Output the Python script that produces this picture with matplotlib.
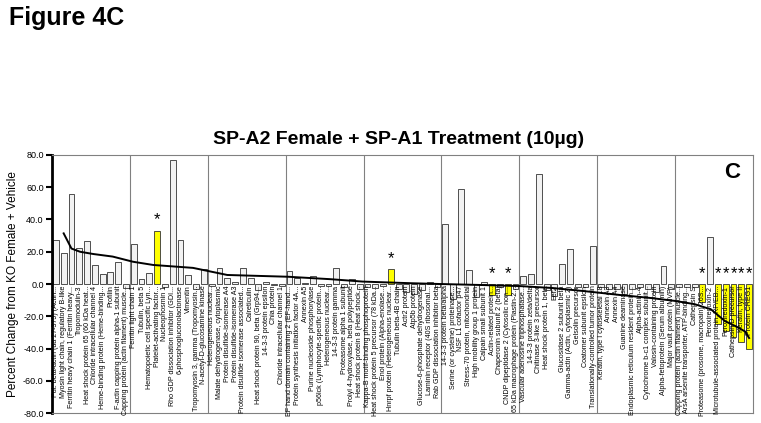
import numpy as np
import matplotlib
matplotlib.use('Agg')
import matplotlib.pyplot as plt

plt.rcParams['font.family'] = ['Liberation Sans', 'DejaVu Sans']

# protein names (as printed, truncated like the original)
proteins = [
    "Put. beta-actin (aa 27-375) (Actin...", "Myosin light chain, regulatory B-like",
    "Ferritin heavy chain 1 (Ferritin heavy...", "Tropomodulin-3",
    "Heat shock protein 65 (60 kDa heat...", "Chloride intracellular channel 4",
    "Heme-binding protein (Heme-binding...", "Profilin",
    "F-actin capping protein alpha-1 subunit", "Capping protein (actin filament) muscle...",
    "Ferritin light chain 1", "Tubulin, beta 5",
    "Hematopoietic cell specific Lyn...", "Platelet-activating factor...",
    "Nucleophosmin 1", "Rho GDP dissociation inhibitor (GDI...",
    "6-phosphogluconolactonase", "Vimentin",
    "Tropomyosin 3, gamma (Tropomyosin...", "N-acetyl-D-glucosamine kinase",
    "Heterogeneous nuclear...", "Malate dehydrogenase, cytoplasmic",
    "Protein disulfide-isomerase A4", "Protein disulfide-isomerase A3",
    "Protein disulfide isomerase associated...", "Calreticulin",
    "Heat shock protein 90, beta (Grp94...", "14-3-3 protein epsilon",
    "Chia protein", "Chloride intracellular channel 1",
    "EF hand domain containing 2 (EF-hand...", "Protein synthesis initiation factor 4A...",
    "Annexin A5", "Purine nucleoside phosphorylase",
    "p56lck (Lymphocyte-specific protein...", "Heterogeneous nuclear...",
    "14-3-3 protein gamma", "Proteasome alpha 1 subunit",
    "Prolyl 4-hydroxylase, beta polypeptide", "Heat shock protein 8 (Heat shock...",
    "Kappa-B motif-binding phosphoprotein", "Heat shock protein 5 precursor (78 kDa...",
    "Enol protein (Alpha-enolase...", "Hnrpf protein (Heterogeneous nuclear...",
    "Tubulin beta-4B chain", "Actr2 protein",
    "Atp5b protein", "Glucose-6-phosphate dehydrogenase",
    "Laminin receptor (40S ribosomal...", "Rab GDP dissociation inhibitor beta",
    "14-3-3 protein beta/alpha", "Serine (or cysteine) proteinase...",
    "NSF L1 cofactor p47", "Stress-70 protein, mitochondrial",
    "High mobility group 1 protein", "Calpain small subunit 1",
    "Actin-related protein...", "Chaperonin subunit 2 (beta)",
    "CNDP dipeptidase 2 (Cytosolic non...", "65 kDa macrophage protein (Plastin-2...",
    "Vascular adenosine triphosphatase...", "14-3-3 protein zeta/delta",
    "Chitinase 3-like 3 precursor", "Heat shock protein 1, beta",
    "Eef2", "Glucosidase 2 subunit beta",
    "Gamma-actin (Actin, cytoplasmic 2)", "Gelsolin precursor",
    "Coatomer subunit epsilon", "Translationally-controlled tumor protein",
    "Keratin, type I cytoskeletal 18", "Annexin A3",
    "Annexin A4", "Guanine deaminase",
    "Endoplasmic reticulum resident protein...", "Alpha-actinin-4",
    "Cytochrome b-c1 complex subunit...", "Valosin-containing protein",
    "Alpha-fetoprotein (Serum albumin)", "Major vault protein (MVP)",
    "Capping protein (actin filament) muscle...", "ArsA arsenite transporter, ATP-binding...",
    "Cathepsin S", "Proteasome (prosome, macropain) 26S...",
    "Peroxiredoxin-2", "Microtubule-associated protein, RP/EB...",
    "Peroxiredoxin-1", "Cathepsin D precursor",
    "Keratin, type II", "Protein CREG1",
]

pct_change = [
    27.5, 19, 56, 22.5, 26.5, 11.5, 6, 7.5, 13.8, -2.5,
    24.5, 3, 7, 33, -2, 77, 27, 5.5, -3, 9,
    -1, 9.7, 3.5, 1.5, 9.7, 3.5, -4, 1.3, -0.5, -1,
    8, 4, 0.5, 5, -1.5, -1, 10, -2, 3, -3,
    -2, -2.5, -1, 9, -3, -5, -6, -3.5, 1, -2,
    37, -9, 59, 8.5, -8, 1, -7, -2, -7, -3,
    4.7, 6.4, 68, -4, -7.5, 12.4, 21.7, -2, -2, 23.7,
    -2, -3, -3, -6, -3, -2, -3, -5, 11, -3,
    -2, -2, -2, -11, 29, -25, -29, -33, -36, -40,
]

# significant proteins (yellow + asterisk), 0-based index
significant = [13, 43, 56, 58, 83, 85, 86, 87, 88, 89]

# trend line (category index, value)
trend_x = [1, 2, 3.1, 4.8, 7.3, 9.9, 12.5, 17.6, 22, 26.2, 29.8, 35.2, 39.4,
           45.5, 49.3, 54.4, 59.6, 63.8, 68.2, 72.4, 76.4, 79.5, 82, 84.1,
           85.9, 87.4, 88.5, 89]
trend_y = [31.4, 22, 20, 18.6, 17, 13.8, 11.8, 10, 5.6, 5, 4.5, 3, 1.5,
           0.5, 0, -0.6, -1.3, -2.5, -4.6, -6.8, -8.7, -10.5, -12.5, -15.7,
           -23, -26.5, -29.5, -33.5]

n = len(proteins)
x = np.arange(n)
colors = ['#ffff00' if i in significant else '#f2f2f2' for i in range(n)]

fig = plt.figure(figsize=(7.61, 4.23), dpi=100)
ax = fig.add_axes([0.0683, 0.0236, 0.9212, 0.61])

# separators every 10 categories
for b in range(10, n, 10):
    ax.axvline(b - 0.5, color='#808080', lw=0.8, zorder=0)

ax.bar(x, pct_change, width=0.75, color=colors, edgecolor='#333333', lw=0.6, zorder=2)
ax.plot(trend_x, trend_y, color='black', lw=1.4, zorder=4)

for i, name in enumerate(proteins):
    ax.text(i, -1.0, name, rotation=90, ha='center', va='top', fontsize=5.1, zorder=5)

for i in significant:
    y = pct_change[i] + 2 if pct_change[i] > 0 else 2
    ax.text(i, y, '*', ha='center', va='bottom', fontsize=12, zorder=5)

ax.text(0.981, 0.934, 'C', transform=ax.transAxes, ha='right', va='center',
        fontsize=16, fontweight='bold')

ax.set_xlim(-0.5, n - 0.5)
ax.set_ylim(-80, 80)
ax.set_yticks(np.arange(-80, 81, 20))
ax.set_yticklabels(['%.1f' % v for v in np.arange(-80, 81, 20)], fontsize=6.5)
ax.set_xticks([])
ax.tick_params(axis='y', direction='out', length=4, width=1.5, pad=2)
ax.set_ylabel('Percent Change from KO Female + Vehicle', fontsize=8.5, labelpad=3)
for s in ['top', 'right', 'bottom']:
    ax.spines[s].set_color('#808080')
    ax.spines[s].set_linewidth(0.8)
ax.spines['left'].set_linewidth(2)

fig.text(0.524, 0.6596, 'SP-A2 Female + SP-A1 Treatment (10µg)', ha='center', va='baseline',
         fontsize=14, fontweight='bold')
fig.text(0.012, 0.941, 'Figure 4C', ha='left', va='baseline', fontsize=18, fontweight='bold')

fig.savefig('out.png', dpi=100)
